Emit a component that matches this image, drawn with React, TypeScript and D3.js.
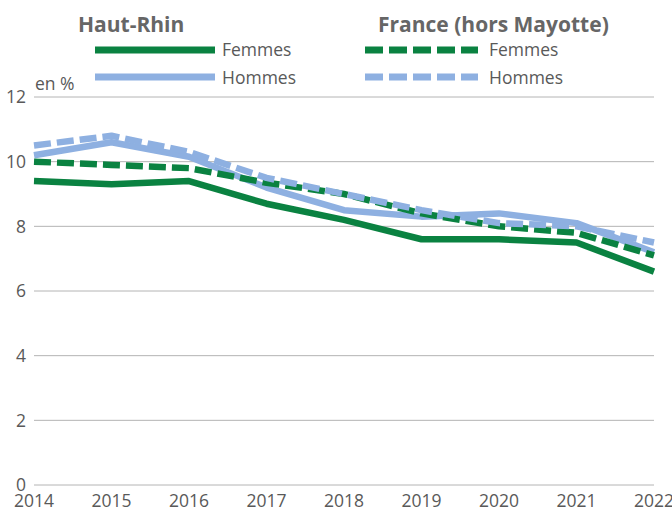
import React from 'react';
import * as d3 from 'd3';

const years = [2014, 2015, 2016, 2017, 2018, 2019, 2020, 2021, 2022];
const hrFemmes = [9.4, 9.3, 9.4, 8.7, 8.2, 7.6, 7.6, 7.5, 6.6];
const hrHommes = [10.2, 10.6, 10.15, 9.2, 8.5, 8.3, 8.4, 8.1, 7.2];
const frFemmes = [10.0, 9.9, 9.8, 9.35, 9.0, 8.4, 8.0, 7.8, 7.1];
const frHommes = [10.5, 10.8, 10.3, 9.5, 9.0, 8.5, 8.1, 8.0, 7.5];
const yTicks = [0, 2, 4, 6, 8, 10, 12];

const green = '#0a8241';
const blue = '#8eb0e1';
const grey = '#595959';
const font = "'Open Sans', sans-serif";

const series = [
  { values: hrFemmes, color: green, dash: null },
  { values: hrHommes, color: blue, dash: null },
  { values: frFemmes, color: green, dash: '17,6' },
  { values: frHommes, color: blue, dash: '17,6' },
];

export default function App() {
  const width = 672;
  const height = 511;
  const x = d3.scalePoint<number>().domain(years).range([34, 654]);
  const y = d3.scaleLinear().domain([0, 12]).range([485, 97]);
  const line = d3
    .line<number>()
    .x((_, i) => x(years[i]) as number)
    .y((d) => y(d));

  return (
    <svg
      width={width}
      height={height}
      style={{ position: 'absolute', left: 0, top: 0, fontFamily: font }}
    >
      <rect width={width} height={height} fill="#fff" />
      {yTicks.map((t) => (
        <g key={t}>
          <line x1={34} x2={654} y1={y(t)} y2={y(t)} stroke="#b4b4b4" strokeWidth={1} />
          <text x={26} y={y(t)} dy="0.36em" textAnchor="end" fontSize={17.5} fill={grey}>
            {t}
          </text>
        </g>
      ))}
      {years.map((yr) => (
        <text key={yr} x={x(yr)} y={507} textAnchor="middle" fontSize={17.5} fill={grey}>
          {yr}
        </text>
      ))}
      <text x={35} y={90} fontSize={17.5} fill={grey}>en %</text>

      {series.map((s, i) => (
        <path
          key={i}
          d={line(s.values) || ''}
          fill="none"
          stroke={s.color}
          strokeWidth={6.5}
          strokeDasharray={s.dash || undefined}
          strokeLinejoin="round"
        />
      ))}

      {/* legend */}
      <text x={78} y={32} fontSize={21} fontWeight="bold" fill="#666">Haut-Rhin</text>
      <text x={378} y={32} fontSize={21} fontWeight="bold" fill="#666">France (hors Mayotte)</text>
      <line x1={95} x2={215} y1={50} y2={50} stroke={green} strokeWidth={7} />
      <line x1={95} x2={215} y1={77} y2={77} stroke={blue} strokeWidth={7} />
      <line x1={365} x2={478} y1={50} y2={50} stroke={green} strokeWidth={7} strokeDasharray="18,6" />
      <line x1={365} x2={478} y1={77} y2={77} stroke={blue} strokeWidth={7} strokeDasharray="18,6" />
      <text x={222} y={56} fontSize={17.5} fill={grey}>Femmes</text>
      <text x={222} y={84} fontSize={17.5} fill={grey}>Hommes</text>
      <text x={489} y={56} fontSize={17.5} fill={grey}>Femmes</text>
      <text x={489} y={84} fontSize={17.5} fill={grey}>Hommes</text>
    </svg>
  );
}
